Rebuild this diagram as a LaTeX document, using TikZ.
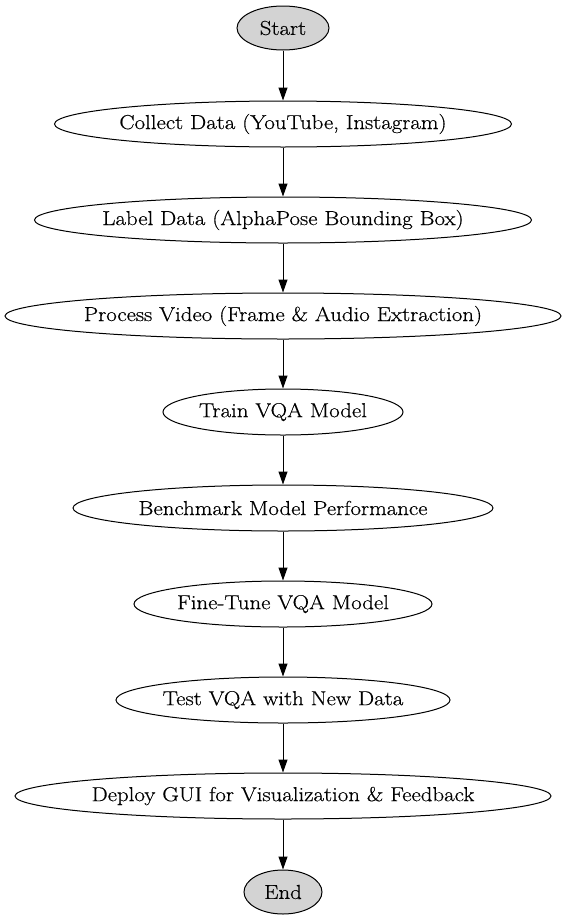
\documentclass[tikz,border=0pt]{standalone}
\usepackage{fontspec}
\setmainfont{Latin Modern Roman}[FakeStretch=1.13,FakeBold=0.5]
\usetikzlibrary{arrows.meta,shapes.geometric}
\definecolor{termfill}{HTML}{D3D3D3}
\newcommand{\ztext}[1]{\makebox[0pt]{#1}}
\begin{document}
\begin{tikzpicture}[x=1bp,y=-1bp,
  every node/.style={font=\fontsize{20.3}{24}\selectfont},
  stepnode/.style={draw=black, line width=1bp, ellipse, inner sep=0pt, minimum height=46bp},
  termnode/.style={stepnode, fill=termfill, minimum height=44bp},
  flow/.style={draw=black, line width=1bp, -{Triangle[length=13bp,width=9bp]}}]
\useasboundingbox (0,0) rectangle (565,923);
\node[termnode, minimum width=92bp] (start) at (283,28) {\ztext{Start}};
\node[stepnode, minimum width=457bp] (collect) at (283,124) {\ztext{Collect Data (YouTube, Instagram)}};
\node[stepnode, minimum width=497bp] (label) at (283,220) {\ztext{Label Data (AlphaPose Bounding Box)}};
\node[stepnode, minimum width=556bp] (process) at (283,316) {\ztext{Process Video (Frame \& Audio Extraction)}};
\node[stepnode, minimum width=240bp] (train) at (283,412) {\ztext{Train VQA Model}};
\node[stepnode, minimum width=420bp] (bench) at (283,508) {\ztext{Benchmark Model Performance}};
\node[stepnode, minimum width=298bp] (fine) at (283,604) {\ztext{Fine-Tune VQA Model}};
\node[stepnode, minimum width=334bp] (test) at (283,700) {\ztext{Test VQA with New Data}};
\node[stepnode, minimum width=536bp] (deploy) at (283,796) {\ztext{Deploy GUI for Visualization \& Feedback}};
\node[termnode, minimum width=78bp] (end) at (283,892) {\ztext{End}};
\draw[flow] (start) -- (collect);
\draw[flow] (collect) -- (label);
\draw[flow] (label) -- (process);
\draw[flow] (process) -- (train);
\draw[flow] (train) -- (bench);
\draw[flow] (bench) -- (fine);
\draw[flow] (fine) -- (test);
\draw[flow] (test) -- (deploy);
\draw[flow] (deploy) -- (end);
\end{tikzpicture}
\end{document}
